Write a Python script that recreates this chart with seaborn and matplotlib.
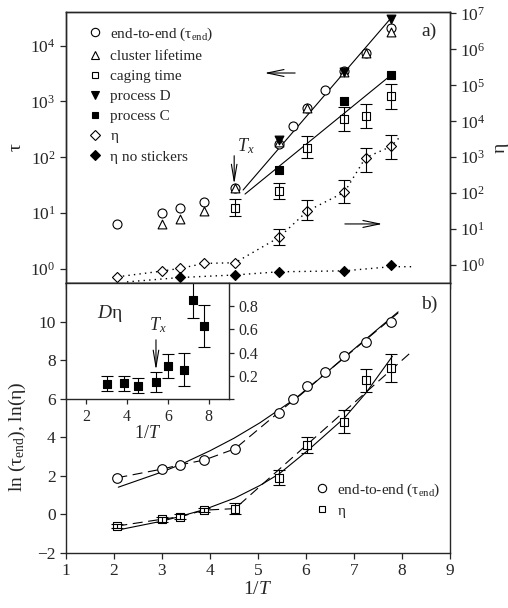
import matplotlib
matplotlib.use('Agg')
import matplotlib.pyplot as plt
from matplotlib.lines import Line2D
import matplotlib.ticker as mticker
import numpy as np
import seaborn as sns

# --- panel a): relaxation times (left axis, tau) ---
x_end = [2.07, 3.0, 3.38, 3.88, 4.52, 5.44, 5.72, 6.03, 6.4, 6.8, 7.24, 7.77]
tau_end = [6.3, 10.1, 12.3, 15.9, 28.4, 176, 370, 760, 1580, 3570, 7400, 20400]

x_cluster = [3.0, 3.38, 3.88, 4.52, 5.44, 6.03, 6.8, 7.24, 7.77]
tau_cluster = [6.5, 8.0, 11, 28, 190, 760, 3400, 7400, 17300]

x_cage = [4.52, 5.44, 6.03, 6.8, 7.24, 7.77]
tau_cage = [12.6, 24.7, 149, 490, 550, 1230]
tau_cage_lo = [8.8, 17.6, 99, 290, 340, 740]
tau_cage_hi = [18.3, 34.9, 237, 790, 910, 2090]

x_proc = [5.44, 6.8, 7.77]
tau_D = [200, 3300, 30000]
tau_C = [60, 1000, 3000]

# straight (Arrhenius) guide lines starting at T_x
x_fit_D = [4.69, 7.77]
tau_fit_D = [26, 31000]
x_fit_C = [4.73, 7.78]
tau_fit_C = [22, 3000]

# --- panel a): viscosity (right axis, eta) ---
x_eta = [2.07, 3.0, 3.38, 3.88, 4.52, 5.44, 6.03, 6.8, 7.24, 7.77]
eta = [0.47, 0.68, 0.81, 1.11, 1.16, 5.9, 32, 106, 970, 1990]
x_eta_err = [5.44, 6.03, 6.8, 7.24, 7.77]
eta_err_mid = [5.9, 32, 106, 970, 1990]
eta_err_lo = [3.6, 18, 52, 400, 880]
eta_err_hi = [9.9, 65, 234, 1860, 4200]
x_eta_guide = [2.07, 3.0, 3.38, 3.88, 4.52, 5.44, 6.03, 6.8, 7.24, 7.77, 7.96]
eta_guide = [0.47, 0.68, 0.81, 1.11, 1.16, 5.9, 32, 106, 970, 1990, 3700]

x_ns = [3.38, 4.52, 5.44, 6.8, 7.77]
eta_ns = [0.47, 0.53, 0.65, 0.69, 1.0]
x_ns_guide = [2.27, 3.38, 4.52, 5.44, 6.8, 7.77, 8.23]
eta_ns_guide = [0.34, 0.45, 0.53, 0.65, 0.69, 0.9, 0.9]

# --- panel b): logarithms ---
x_b = [2.07, 3.0, 3.38, 3.88, 4.52, 5.44, 5.72, 6.03, 6.4, 6.8, 7.24, 7.77]
ln_tau_end = [1.9, 2.35, 2.57, 2.82, 3.4, 5.25, 5.96, 6.68, 7.37, 8.19, 8.96, 9.96]
x_b_eta = [2.07, 3.0, 3.38, 3.88, 4.52, 5.44, 6.03, 6.8, 7.24, 7.77]
ln_eta = [-0.6, -0.25, -0.12, 0.22, 0.3, 1.9, 3.6, 4.8, 6.95, 7.6]
ln_eta_err = [0.12, 0.12, 0.12, 0.12, 0.28, 0.38, 0.4, 0.6, 0.6, 0.73]

# dashed guides (join points below T_x, straight above)
x_dash_end = [2.07, 3.0, 3.38, 3.88, 4.52, 7.92]
y_dash_end = [1.9, 2.35, 2.57, 2.82, 3.4, 10.45]
x_dash_eta = [2.07, 3.0, 3.38, 3.88, 4.52, 8.23]
y_dash_eta = [-0.6, -0.25, -0.12, 0.22, 0.3, 8.5]
# solid VFT-like curves
x_vft_end = [2.09, 3.0, 3.4, 4.0, 4.5, 5.04, 5.88, 6.8, 7.92]
y_vft_end = [1.41, 2.2, 2.6, 3.3, 3.95, 4.75, 6.18, 8.15, 10.5]
x_vft_eta = [2.1, 3.0, 3.38, 3.88, 4.52, 5.04, 5.44, 6.03, 6.8, 7.25, 7.8]
y_vft_eta = [-0.8, -0.35, -0.1, 0.25, 0.85, 1.5, 2.1, 3.3, 5.0, 6.3, 8.2]

# --- inset: D*eta ---
x_in = [3.0, 3.87, 4.52, 5.44, 6.03, 6.8, 7.24, 7.77]
d_eta = [0.13, 0.136, 0.116, 0.147, 0.285, 0.252, 0.857, 0.626]
d_eta_err = [0.065, 0.065, 0.065, 0.088, 0.106, 0.143, 0.16, 0.18]

sns.set_style('ticks')
plt.rcParams['font.family'] = ['Liberation Serif', 'DejaVu Serif']
plt.rcParams['mathtext.fontset'] = 'custom'
plt.rcParams['mathtext.rm'] = 'Liberation Serif'
plt.rcParams['mathtext.it'] = 'Liberation Serif:italic'
plt.rcParams['axes.linewidth'] = 1.0
plt.rcParams['xtick.major.width'] = 0.9
plt.rcParams['ytick.major.width'] = 0.9
plt.rcParams['xtick.major.size'] = 4
plt.rcParams['ytick.major.size'] = 4

TICK = 12.5
LW = 0.8

fig = plt.figure(figsize=(5.08, 6.08), dpi=100)
ax = fig.add_axes([0.1299, 0.5345, 0.7559, 0.4457])
axr = ax.twinx()
axb = fig.add_axes([0.1299, 0.0905, 0.7559, 0.4441])
axi = fig.add_axes([0.1299, 0.3438, 0.3209, 0.1908])

open_kw = dict(color='white', edgecolor='black', linewidth=0.8, legend=False)
fill_kw = dict(color='black', edgecolor='black', linewidth=0.8, legend=False)

# ---------- panel a ----------
ax.set_yscale('log')
axr.set_yscale('log')
ax.set_xlim(1, 9)
ax.set_ylim(10 ** -0.25, 10 ** 4.6)
axr.set_ylim(10 ** -0.5, 10 ** 7.04)

sns.lineplot(x=x_fit_D, y=tau_fit_D, ax=ax, color='black', lw=LW, sort=False)
sns.lineplot(x=x_fit_C, y=tau_fit_C, ax=ax, color='black', lw=LW, sort=False)
ax.errorbar(x_cage, tau_cage,
            yerr=[np.subtract(tau_cage, tau_cage_lo), np.subtract(tau_cage_hi, tau_cage)],
            fmt='none', ecolor='black', elinewidth=LW, capsize=4.5, capthick=LW, zorder=4)
sns.scatterplot(x=x_end, y=tau_end, ax=ax, marker='o', s=42, zorder=3, **open_kw)
sns.scatterplot(x=x_cluster, y=tau_cluster, ax=ax, marker='^', s=40, zorder=3, **open_kw)
sns.scatterplot(x=x_cage, y=tau_cage, ax=ax, marker='s', s=26, zorder=3, **open_kw)
sns.scatterplot(x=x_proc, y=tau_D, ax=ax, marker='v', s=40, zorder=3, **fill_kw)
sns.scatterplot(x=x_proc, y=tau_C, ax=ax, marker='s', s=28, zorder=3, **fill_kw)

sns.lineplot(x=x_eta_guide, y=eta_guide, ax=axr, color='black', lw=1.0,
             linestyle=(0, (1, 3)), sort=False)
sns.lineplot(x=x_ns_guide, y=eta_ns_guide, ax=axr, color='black', lw=1.0,
             linestyle=(0, (1, 3)), sort=False)
axr.errorbar(x_eta_err, eta_err_mid,
             yerr=[np.subtract(eta_err_mid, eta_err_lo), np.subtract(eta_err_hi, eta_err_mid)],
             fmt='none', ecolor='black', elinewidth=LW, capsize=4.5, capthick=LW, zorder=4)
sns.scatterplot(x=x_eta, y=eta, ax=axr, marker='D', s=26, zorder=3, **open_kw)
sns.scatterplot(x=x_ns, y=eta_ns, ax=axr, marker='D', s=26, zorder=3, **fill_kw)

ax.set_xticks(range(1, 10))
ax.set_xticklabels([])
ax.set_yticks([10 ** k for k in range(0, 5)])
axr.set_yticks([10 ** k for k in range(0, 8)])
for a in (ax, axr):
    a.yaxis.set_minor_locator(mticker.NullLocator())
    a.tick_params(axis='y', labelsize=TICK, direction='out')
ax.tick_params(axis='x', direction='out', length=4)
ax.set_xlabel('')
ax.set_ylabel('τ', fontsize=14, labelpad=4)
axr.set_ylabel('η', fontsize=14, labelpad=4)

ax.annotate('', xy=(0.510, 0.775), xytext=(0.604, 0.775), xycoords='axes fraction',
            arrowprops=dict(arrowstyle='->,head_length=1.2,head_width=0.25', lw=0.8, color='black'))
ax.annotate('', xy=(0.831, 0.218), xytext=(0.719, 0.218), xycoords='axes fraction',
            arrowprops=dict(arrowstyle='->,head_length=1.2,head_width=0.25', lw=0.8, color='black'))
ax.annotate('', xy=(0.438, 0.354), xytext=(0.438, 0.48), xycoords='axes fraction',
            arrowprops=dict(arrowstyle='->,head_length=1.2,head_width=0.2', lw=0.8, color='black'))
ax.text(0.468, 0.505, '$T_x$', transform=ax.transAxes, fontsize=13, ha='center', va='center')
ax.text(0.945, 0.93, 'a)', transform=ax.transAxes, fontsize=14, ha='center', va='center')

handles = [
    Line2D([], [], ls='none', marker='o', mfc='white', mec='black', ms=6, mew=0.8),
    Line2D([], [], ls='none', marker='^', mfc='white', mec='black', ms=6, mew=0.8),
    Line2D([], [], ls='none', marker='s', mfc='white', mec='black', ms=5, mew=0.8),
    Line2D([], [], ls='none', marker='v', mfc='black', mec='black', ms=6, mew=0.8),
    Line2D([], [], ls='none', marker='s', mfc='black', mec='black', ms=5, mew=0.8),
    Line2D([], [], ls='none', marker='D', mfc='white', mec='black', ms=5, mew=0.8),
    Line2D([], [], ls='none', marker='D', mfc='black', mec='black', ms=5, mew=0.8),
]
labels = ['end-to-end (τ$_{\\mathrm{end}}$)', 'cluster lifetime', 'caging time',
          'process D', 'process C', 'η', 'η no stickers']
axr.legend(handles, labels, loc='upper left', bbox_to_anchor=(0.056, 0.95),
           frameon=False, fontsize=11, handlelength=1.0, handletextpad=0.5,
           labelspacing=0.42, borderpad=0, borderaxespad=0)

# ---------- panel b ----------
axb.set_xlim(1, 9)
axb.set_ylim(-2, 12)
dash = (0, (9, 5))
sns.lineplot(x=x_dash_end, y=y_dash_end, ax=axb, color='black', lw=LW, linestyle=dash, sort=False)
sns.lineplot(x=x_dash_eta, y=y_dash_eta, ax=axb, color='black', lw=LW, linestyle=dash, sort=False)
sns.lineplot(x=x_vft_end, y=y_vft_end, ax=axb, color='black', lw=LW, sort=False)
sns.lineplot(x=x_vft_eta, y=y_vft_eta, ax=axb, color='black', lw=LW, sort=False)
axb.errorbar(x_b_eta, ln_eta, yerr=ln_eta_err, fmt='none', ecolor='black',
             elinewidth=LW, capsize=4.5, capthick=LW, zorder=4)
sns.scatterplot(x=x_b, y=ln_tau_end, ax=axb, marker='o', s=48, zorder=3, **open_kw)
sns.scatterplot(x=x_b_eta, y=ln_eta, ax=axb, marker='s', s=30, zorder=3, **open_kw)

axb.set_xticks(range(1, 10))
axb.set_yticks(range(-2, 12, 2))
axb.tick_params(labelsize=TICK, direction='out')
axb.set_xlabel('1/$T$', fontsize=14, labelpad=1)
axb.set_ylabel('ln (τ$_{\\mathrm{end}}$), ln(η)', fontsize=14)
axb.yaxis.set_label_coords(-0.10, 0.43)
axb.text(0.945, 0.92, 'b)', transform=axb.transAxes, fontsize=14, ha='center', va='center')

hb = [Line2D([], [], ls='none', marker='o', mfc='white', mec='black', ms=6, mew=0.8),
      Line2D([], [], ls='none', marker='s', mfc='white', mec='black', ms=5, mew=0.8)]
axb.legend(hb, ['end-to-end (τ$_{\\mathrm{end}}$)', 'η'], loc='upper left',
           bbox_to_anchor=(0.647, 0.265), frameon=False, fontsize=11,
           handlelength=1.0, handletextpad=0.5, labelspacing=0.35,
           borderpad=0, borderaxespad=0)

# ---------- inset ----------
axi.set_facecolor('white')
axi.set_xlim(1, 9)
axi.set_ylim(0, 1.0)
axi.errorbar(x_in, d_eta, yerr=d_eta_err, fmt='none', ecolor='black',
             elinewidth=LW, capsize=4.5, capthick=LW, zorder=2)
sns.scatterplot(x=x_in, y=d_eta, ax=axi, marker='s', s=32, zorder=3, **fill_kw)
axi.set_xticks([2, 4, 6, 8])
axi.yaxis.tick_right()
axi.set_yticks([0, 0.2, 0.4, 0.6, 0.8])
axi.set_yticklabels(['', '0.2', '0.4', '0.6', '0.8'])
axi.tick_params(labelsize=11.5, direction='out', length=3.5)
axi.set_xlabel('1/$T$', fontsize=13, labelpad=0)
axi.set_ylabel('')
axi.text(0.27, 0.74, '$D$η', transform=axi.transAxes, fontsize=14, ha='center', va='center')
axi.text(0.56, 0.64, '$T_x$', transform=axi.transAxes, fontsize=13, ha='center', va='center')
axi.annotate('', xy=(0.552, 0.224), xytext=(0.552, 0.534), xycoords='axes fraction',
             arrowprops=dict(arrowstyle='->,head_length=1.2,head_width=0.2', lw=0.8, color='black'))

fig.savefig('out.png', dpi=100)
